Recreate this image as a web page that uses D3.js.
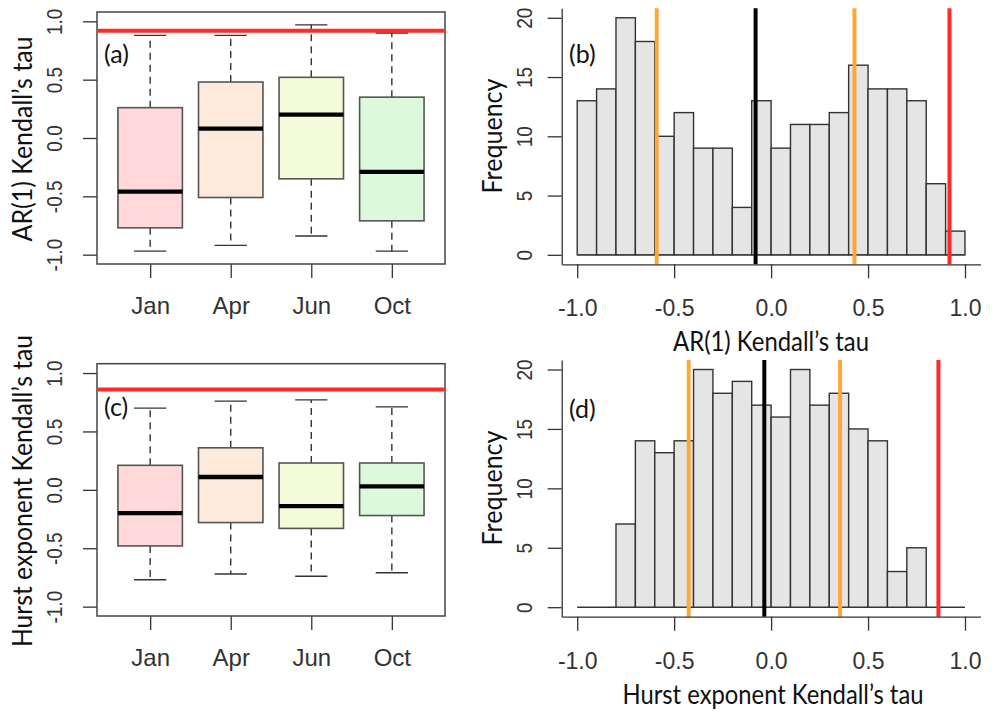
<!DOCTYPE html>
<html>
<head>
<meta charset="utf-8">
<script src="https://cdn.jsdelivr.net/npm/d3@7"></script>
<style>
  body { margin: 0; background: #fff; }
  svg { display: block; }
  .tick text { font-family: "Liberation Sans", Arial, sans-serif; fill: #333; }
  .lab { font-family: Lato, "Open Sans", sans-serif; fill: #111; }
</style>
</head>
<body>
<div id="chart"></div>
<script>
// Boxplot stats: [low whisker, Q1, median, Q3, high whisker]
var months = ["Jan", "Apr", "Jun", "Oct"];
var boxFills = ["#ffd8da", "#fdeadb", "#f4fbdb", "#dcf9db"];

var ar1Low = [-0.97, -0.92, -0.84, -0.97];
var ar1Q1 = [-0.77, -0.51, -0.35, -0.71];
var ar1Med = [-0.46, 0.08, 0.20, -0.29];
var ar1Q3 = [0.26, 0.48, 0.52, 0.35];
var ar1High = [0.88, 0.88, 0.97, 0.90];
var ar1Observed = 0.92;

var hurstLow = [-0.77, -0.72, -0.74, -0.71];
var hurstQ1 = [-0.48, -0.28, -0.33, -0.22];
var hurstMed = [-0.20, 0.11, -0.14, 0.03];
var hurstQ3 = [0.21, 0.36, 0.23, 0.23];
var hurstHigh = [0.70, 0.76, 0.77, 0.71];
var hurstObserved = 0.86;

// histogram bins (width 0.1) and counts
var binStarts = [-1.0, -0.9, -0.8, -0.7, -0.6, -0.5, -0.4, -0.3, -0.2, -0.1,
                 0.0, 0.1, 0.2, 0.3, 0.4, 0.5, 0.6, 0.7, 0.8, 0.9];
var binWidth = 0.1;
var ar1Counts = [13, 14, 20, 18, 10, 12, 9, 9, 4, 13, 9, 11, 11, 12, 16, 14, 14, 13, 6, 2];
var hurstCounts = [0, 0, 7, 14, 13, 14, 20, 18, 19, 17, 16, 20, 17, 18, 15, 14, 3, 5, 0, 0];

// reference lines: [5%, median, 95%, observed]
var ar1Marks = [-0.59, -0.08, 0.43, 0.92];
var hurstMarks = [-0.425, -0.035, 0.356, 0.863];
var markColors = ["#ffa73a", "#000000", "#ffa73a", "#ff2b2b"];

var boxTicks = [-1, -0.5, 0, 0.5, 1];
var histXTicks = [-1, -0.5, 0, 0.5, 1];
var histYTicks = [0, 5, 10, 15, 20];

var fmt = d => d.toFixed(1);

var svg = d3.select("#chart").append("svg")
  .attr("width", 1003)
  .attr("height", 713);

function styleAxis(g) {
  g.select(".domain").attr("stroke", "#333").attr("stroke-width", 1.3);
  g.selectAll(".tick line").attr("stroke", "#333").attr("stroke-width", 1.3);
}

function drawBoxplot(cfg) {
  var x = d3.scaleLinear().domain([0.34, 4.66]).range([97, 445]);
  var y = d3.scaleLinear().domain([-1.08, 1.08]).range([cfg.bottom, cfg.top]);
  var g = svg.append("g");

  // y axis
  var ya = g.append("g")
    .attr("transform", "translate(97,0)")
    .call(d3.axisLeft(y).tickValues(boxTicks).tickSize(14).tickSizeOuter(0).tickFormat(fmt));
  ya.select(".domain").remove();
  styleAxis(ya);
  ya.selectAll(".tick text")
    .attr("x", null).attr("dy", null)
    .attr("text-anchor", "middle")
    .attr("font-size", 19)
    .attr("transform", "translate(-35,0) rotate(-90) scale(1,1.2)");

  // x axis
  var xa = g.append("g")
    .attr("transform", `translate(0,${cfg.bottom})`)
    .call(d3.axisBottom(x).tickValues([1, 2, 3, 4]).tickSize(14).tickSizeOuter(0)
      .tickFormat((d, i) => months[i]));
  xa.select(".domain").remove();
  styleAxis(xa);
  xa.selectAll(".tick text")
    .attr("y", 50).attr("dy", null)
    .attr("font-size", 24);

  // frame
  g.append("rect")
    .attr("x", 97).attr("y", cfg.top)
    .attr("width", 445 - 97).attr("height", cfg.bottom - cfg.top)
    .attr("fill", "none").attr("stroke", "#444").attr("stroke-width", 1.5);

  var boxes = g.append("g").selectAll("g")
    .data(months)
    .enter().append("g");

  // whiskers
  boxes.append("line")
    .attr("x1", (d, i) => x(i + 1)).attr("x2", (d, i) => x(i + 1))
    .attr("y1", (d, i) => y(cfg.q3[i])).attr("y2", (d, i) => y(cfg.high[i]))
    .attr("stroke", "#333").attr("stroke-width", 1.4).attr("stroke-dasharray", "7,5");
  boxes.append("line")
    .attr("x1", (d, i) => x(i + 1)).attr("x2", (d, i) => x(i + 1))
    .attr("y1", (d, i) => y(cfg.q1[i])).attr("y2", (d, i) => y(cfg.low[i]))
    .attr("stroke", "#333").attr("stroke-width", 1.4).attr("stroke-dasharray", "7,5");

  // caps
  [cfg.low, cfg.high].forEach(function(arr) {
    boxes.append("line")
      .attr("x1", (d, i) => x(i + 0.8)).attr("x2", (d, i) => x(i + 1.2))
      .attr("y1", (d, i) => y(arr[i])).attr("y2", (d, i) => y(arr[i]))
      .attr("stroke", "#333").attr("stroke-width", 1.4);
  });

  // boxes
  boxes.append("rect")
    .attr("x", (d, i) => x(i + 0.6))
    .attr("width", x(1.4) - x(0.6))
    .attr("y", (d, i) => y(cfg.q3[i]))
    .attr("height", (d, i) => y(cfg.q1[i]) - y(cfg.q3[i]))
    .attr("fill", (d, i) => boxFills[i])
    .attr("stroke", "#555").attr("stroke-width", 1.6);

  // medians
  boxes.append("line")
    .attr("x1", (d, i) => x(i + 0.6)).attr("x2", (d, i) => x(i + 1.4))
    .attr("y1", (d, i) => y(cfg.med[i])).attr("y2", (d, i) => y(cfg.med[i]))
    .attr("stroke", "#000").attr("stroke-width", 4.3);

  // observed value line
  g.append("line")
    .attr("x1", 97).attr("x2", 445)
    .attr("y1", y(cfg.observed)).attr("y2", y(cfg.observed))
    .attr("stroke", "#ff2b2b").attr("stroke-width", 4);

  g.append("text").attr("class", "lab")
    .attr("x", 104).attr("y", cfg.tagY)
    .attr("font-size", 25)
    .text(cfg.tag);

  g.append("text").attr("class", "lab")
    .attr("transform", `translate(32,${cfg.titleY}) rotate(-90)`)
    .attr("text-anchor", "middle")
    .attr("font-size", 26)
    .attr("textLength", cfg.titleLen).attr("lengthAdjust", "spacingAndGlyphs")
    .text(cfg.title);
}

function drawHist(cfg) {
  var x = d3.scaleLinear().domain([-1.08, 1.08]).range([561.7, 980.5]);
  var y = d3.scaleLinear().domain([-0.8, 20.8]).range([cfg.bottom, cfg.top]);
  var g = svg.append("g");

  // zero-count bins still show as a flat line along 0
  g.append("line")
    .attr("x1", x(binStarts[0]))
    .attr("x2", x(binStarts[binStarts.length - 1] + binWidth))
    .attr("y1", y(0)).attr("y2", y(0))
    .attr("stroke", "#333").attr("stroke-width", 1.4);

  g.append("g").selectAll("rect")
    .data(cfg.counts.filter(d => d > 0).length ? cfg.counts : [])
    .enter().append("rect")
    .attr("x", (d, i) => x(binStarts[i]))
    .attr("width", x(binWidth) - x(0))
    .attr("y", d => y(d))
    .attr("height", d => y(0) - y(d))
    .attr("fill", "#e5e5e5")
    .attr("stroke", d => d > 0 ? "#333" : "none").attr("stroke-width", 1.4);

  g.append("g").selectAll("line")
    .data(cfg.marks)
    .enter().append("line")
    .attr("x1", d => x(d)).attr("x2", d => x(d))
    .attr("y1", y(20.8)).attr("y2", y(-0.8))
    .attr("stroke", (d, i) => markColors[i])
    .attr("stroke-width", 4);

  var ya = g.append("g")
    .attr("transform", "translate(561.7,0)")
    .call(d3.axisLeft(y).tickValues(histYTicks).tickSize(14).tickSizeOuter(0));
  styleAxis(ya);
  ya.selectAll(".tick text")
    .attr("x", null).attr("dy", null)
    .attr("text-anchor", "middle")
    .attr("font-size", 19)
    .attr("transform", "translate(-30,0) rotate(-90) scale(1,1.2)");

  var xa = g.append("g")
    .attr("transform", `translate(0,${cfg.bottom})`)
    .call(d3.axisBottom(x).tickValues(histXTicks).tickSize(14).tickSizeOuter(0).tickFormat(fmt));
  styleAxis(xa);
  xa.selectAll(".tick text")
    .attr("y", 52).attr("dy", null)
    .attr("font-size", 23);

  g.append("text").attr("class", "lab")
    .attr("x", 569).attr("y", cfg.tagY)
    .attr("font-size", 25)
    .text(cfg.tag);

  g.append("text").attr("class", "lab")
    .attr("transform", `translate(502,${cfg.freqY}) rotate(-90)`)
    .attr("text-anchor", "middle")
    .attr("font-size", 26)
    .attr("textLength", 115).attr("lengthAdjust", "spacingAndGlyphs")
    .text("Frequency");

  g.append("text").attr("class", "lab")
    .attr("x", cfg.titleX).attr("y", cfg.titleY)
    .attr("text-anchor", "middle")
    .attr("font-size", 26)
    .attr("textLength", cfg.titleLen).attr("lengthAdjust", "spacingAndGlyphs")
    .text(cfg.title);
}

drawBoxplot({
  top: 12, bottom: 264,
  low: ar1Low, q1: ar1Q1, med: ar1Med, q3: ar1Q3, high: ar1High,
  observed: ar1Observed,
  tag: "(a)", tagY: 63,
  title: "AR(1) Kendall\u2019s tau", titleY: 139, titleLen: 205
});

drawBoxplot({
  top: 363.7, bottom: 616,
  low: hurstLow, q1: hurstQ1, med: hurstMed, q3: hurstQ3, high: hurstHigh,
  observed: hurstObserved,
  tag: "(c)", tagY: 416,
  title: "Hurst exponent Kendall\u2019s tau", titleY: 491, titleLen: 312
});

drawHist({
  top: 8.3, bottom: 264.3,
  counts: ar1Counts, marks: ar1Marks,
  tag: "(b)", tagY: 63, freqY: 136,
  title: "AR(1) Kendall\u2019s tau", titleX: 771, titleY: 351, titleLen: 196
});

drawHist({
  top: 360, bottom: 616.7,
  counts: hurstCounts, marks: hurstMarks,
  tag: "(d)", tagY: 418, freqY: 488,
  title: "Hurst exponent Kendall\u2019s tau", titleX: 773, titleY: 704, titleLen: 301
});
</script>
</body>
</html>
